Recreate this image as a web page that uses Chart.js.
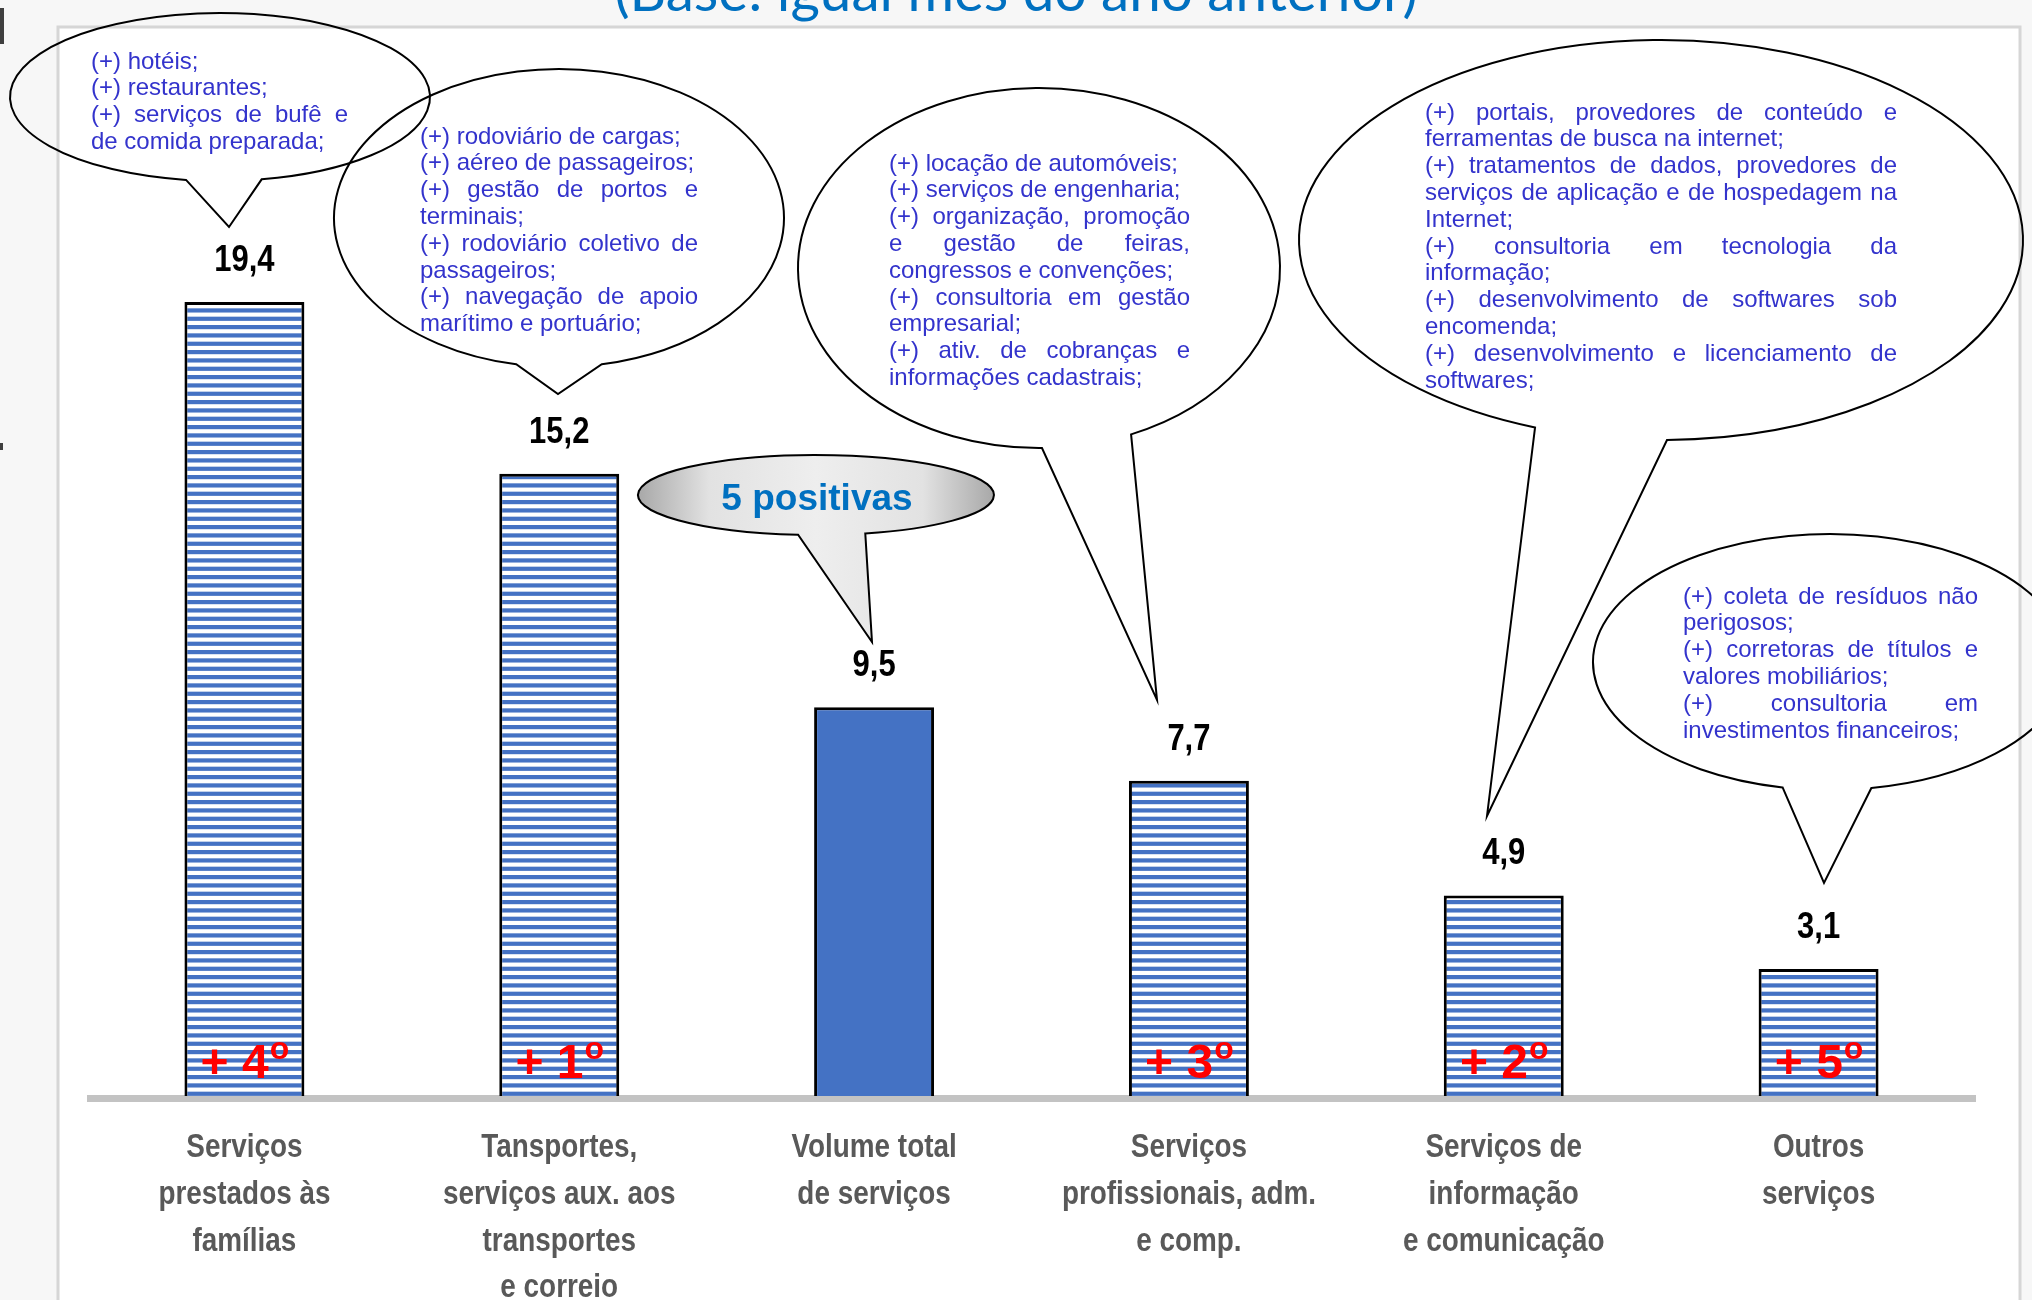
<!DOCTYPE html>
<html>
<head>
<meta charset="utf-8">
<script src="https://cdn.jsdelivr.net/npm/chart.js@4.4.0/dist/chart.umd.min.js"></script>
<style>
  html, body { margin: 0; padding: 0; background: #f7f7f7; }
  #wrap { width: 2032px; height: 1300px; }
</style>
</head>
<body>
<div id="wrap"><canvas id="servChart" width="2032" height="1300"></canvas></div>
<script>
// Categories (multi-line labels) and values
const categories = [
    ["Serviços", "prestados às", "famílias"],
    ["Tansportes,", "serviços aux. aos", "transportes", "e correio"],
    ["Volume total", "de serviços"],
    ["Serviços", "profissionais, adm.", "e comp."],
    ["Serviços de", "informação", "e comunicação"],
    ["Outros", "serviços"]
];
const variation = [19.4, 15.2, 9.5, 7.7, 4.9, 3.1];
const ranking = ["4", "1", "", "3", "2", "5"];
const isTotal = [false, false, true, false, false, false];

const titleText = "(Base: igual mês do ano anterior)";
const summaryText = "5 positivas";

// Bubble texts: one array per bubble, each paragraph = its wrapped lines
const bubbleTexts = [
    [["(+) hotéis;"], ["(+) restaurantes;"], ["(+) serviços de bufê e", "de comida preparada;"]],
    [["(+) rodoviário de cargas;"], ["(+) aéreo de passageiros;"], ["(+) gestão de portos e", "terminais;"],
     ["(+) rodoviário coletivo de", "passageiros;"], ["(+) navegação de apoio", "marítimo e portuário;"]],
    [["(+) locação de automóveis;"], ["(+) serviços de engenharia;"],
     ["(+) organização, promoção", "e gestão de feiras,", "congressos e convenções;"],
     ["(+) consultoria em gestão", "empresarial;"], ["(+) ativ. de cobranças e", "informações cadastrais;"]],
    [["(+) portais, provedores de conteúdo e", "ferramentas de busca na internet;"],
     ["(+) tratamentos de dados, provedores de", "serviços de aplicação e de hospedagem na", "Internet;"],
     ["(+) consultoria em tecnologia da", "informação;"],
     ["(+) desenvolvimento de softwares sob", "encomenda;"],
     ["(+) desenvolvimento e licenciamento de", "softwares;"]],
    [["(+) coleta de resíduos não", "perigosos;"], ["(+) corretoras de títulos e", "valores mobiliários;"],
     ["(+) consultoria em", "investimentos financeiros;"]]
];

// Callout shapes (ellipse, tail base left/right, tip) and text boxes, in page pixels
const bubbleShapes = [
    { cx: 220, cy: 97, rx: 210, ry: 84, bl: [186, 180], br: [262, 180], tip: [229, 227], box: [91, 348, 62] },
    { cx: 559, cy: 218, rx: 225, ry: 149, bl: [516, 365], br: [602, 365], tip: [558, 394], box: [420, 698, 137] },
    { cx: 1039, cy: 268, rx: 241, ry: 180, bl: [1042, 449], br: [1132, 436], tip: [1157, 700], box: [889, 1190, 164] },
    { cx: 1661, cy: 240, rx: 362, ry: 200, bl: [1530, 435], br: [1667, 440], tip: [1487, 816], box: [1425, 1897, 113] },
    { cx: 1830, cy: 662, rx: 237, ry: 128, bl: [1782, 789], br: [1872, 790], tip: [1824, 883], box: [1683, 1978, 597] }
];
const summaryShape = { cx: 816, cy: 495, rx: 178, ry: 40, bl: [798, 535], br: [866, 534], tip: [872, 642] };

const BLUE = "#4472c4";
const SANS = '"Liberation Sans", Arial, sans-serif';

// Horizontal stripe pattern for the bars
function makeStripes() {
    const c = document.createElement("canvas");
    c.width = 4;
    c.height = 25;
    const g = c.getContext("2d");
    g.fillStyle = "#ffffff";
    g.fillRect(0, 0, 4, 25);
    g.fillStyle = BLUE;
    for (let k = 0; k < 3; k++) g.fillRect(0, k * 25 / 3, 4, 4.2);
    return g.createPattern(c, "repeat");
}

function bubblePath(ctx, g) {
    const t1 = Math.atan2((g.bl[1] - g.cy) / g.ry, (g.bl[0] - g.cx) / g.rx);
    const t2 = Math.atan2((g.br[1] - g.cy) / g.ry, (g.br[0] - g.cx) / g.rx);
    ctx.beginPath();
    ctx.ellipse(g.cx, g.cy, g.rx, g.ry, 0, t1, t2, false);
    ctx.lineTo(g.tip[0], g.tip[1]);
    ctx.closePath();
}

// condensed bold text (narrow look of the slide font)
function narrowText(ctx, text, x, y, size, sx) {
    ctx.save();
    ctx.translate(x, y);
    ctx.scale(sx, 1);
    ctx.font = "bold " + size + "px " + SANS;
    ctx.fillText(text, 0, 0);
    ctx.restore();
}

// Justified text like the slide: every line but the last of a paragraph fills the box
function drawJustified(ctx, paras, left, right, top) {
    ctx.font = "24px " + SANS;
    ctx.fillStyle = "#3333cc";
    ctx.textBaseline = "middle";
    ctx.textAlign = "left";
    let y = top;
    paras.forEach(p => {
        p.forEach((line, i) => {
            const words = line.split(" ");
            if (i === p.length - 1 || words.length < 2) {
                ctx.fillText(line, left, y);
            } else {
                const ww = words.map(w => ctx.measureText(w).width);
                const gap = (right - left - ww.reduce((a, b) => a + b, 0)) / (words.length - 1);
                let x = left;
                words.forEach((w, k) => { ctx.fillText(w, x, y); x += ww[k] + gap; });
            }
            y += 26.8;
        });
    });
}

const slidePlugin = {
    id: "slide",
    beforeDraw(chart) {
        const ctx = chart.ctx;
        ctx.save();
        ctx.fillStyle = "#f7f7f7";
        ctx.fillRect(0, 0, chart.width, chart.height);
        // bits of cut-off slide text on the left edge
        ctx.fillStyle = "#3f3f3f";
        ctx.fillRect(0, 8, 4, 36);
        ctx.fillRect(0, 443, 3, 7);
        ctx.fillStyle = "#ffffff";
        ctx.fillRect(58, 27, 1962, 1280);
        ctx.strokeStyle = "#d6d6d6";
        ctx.lineWidth = 3;
        ctx.strokeRect(58, 27, 1962, 1280);

        // title, cut by the top of the picture
        ctx.font = "100px Lato, " + SANS;
        const s = 100 * 803 / ctx.measureText(titleText).width;
        ctx.font = s.toFixed(1) + "px Lato, " + SANS;
        ctx.fillStyle = "#0070c0";
        ctx.textAlign = "center";
        ctx.textBaseline = "alphabetic";
        ctx.fillText(titleText, 1016, 11);
        ctx.restore();
    },
    beforeDatasetsDraw(chart) {
        // grey base line under the bars
        const ctx = chart.ctx;
        const a = chart.chartArea;
        ctx.save();
        ctx.fillStyle = "#c3c3c3";
        ctx.fillRect(a.left, a.bottom - 1, a.right - a.left, 7);
        ctx.restore();
    },
    afterDatasetsDraw(chart) {
        const ctx = chart.ctx;
        const bars = chart.getDatasetMeta(0).data;
        const xScale = chart.scales.x;
        const base = chart.chartArea.bottom;
        ctx.save();

        // category labels under the axis
        ctx.fillStyle = "#595959";
        ctx.textAlign = "center";
        ctx.textBaseline = "middle";
        chart.data.labels.forEach((lines, i) => {
            const x = xScale.getPixelForValue(i);
            lines.forEach((l, k) => narrowText(ctx, l, x, base + 52 + k * 46.7, 34, 0.82));
        });

        // values above the bars and ranking inside them
        bars.forEach((bar, i) => {
            ctx.fillStyle = "#000000";
            ctx.textAlign = "center";
            ctx.textBaseline = "alphabetic";
            narrowText(ctx, variation[i].toFixed(1).replace(".", ","), bar.x, bar.y - 31, 36, 0.86);

            if (ranking[i]) {
                const main = "+ " + ranking[i];
                ctx.font = "bold 48px " + SANS;
                const w1 = ctx.measureText(main).width;
                ctx.font = "bold 32px " + SANS;
                const w2 = ctx.measureText("o").width;
                const x0 = bar.x - (w1 + w2) / 2;
                ctx.fillStyle = "#ff0000";
                ctx.textAlign = "left";
                ctx.font = "bold 48px " + SANS;
                ctx.fillText(main, x0, base - 18);
                ctx.font = "bold 32px " + SANS;
                ctx.fillText("o", x0 + w1 + 1, base - 37);
            }
        });

        // speech bubbles
        ctx.strokeStyle = "#000000";
        ctx.lineWidth = 2;
        bubbleShapes.forEach((g, i) => {
            bubblePath(ctx, g);
            ctx.stroke();
            drawJustified(ctx, bubbleTexts[i], g.box[0], g.box[1], g.box[2]);
        });

        // "5 positivas" callout
        const g = summaryShape;
        const grad = ctx.createLinearGradient(g.cx - g.rx, 0, g.cx + g.rx, 0);
        grad.addColorStop(0, "#a8a8a8");
        grad.addColorStop(0.2, "#e2e2e2");
        grad.addColorStop(0.5, "#eeeeee");
        grad.addColorStop(0.8, "#e2e2e2");
        grad.addColorStop(1, "#a8a8a8");
        bubblePath(ctx, g);
        ctx.fillStyle = grad;
        ctx.fill();
        ctx.stroke();
        ctx.font = "bold 37px " + SANS;
        ctx.fillStyle = "#0070c0";
        ctx.textAlign = "center";
        ctx.textBaseline = "alphabetic";
        ctx.fillText(summaryText, g.cx + 1, 510);
        ctx.restore();
    }
};

const stripes = makeStripes();
const ctx = document.getElementById("servChart").getContext("2d");
const servChart = new Chart(ctx, {
    type: "bar",
    data: {
        labels: categories,
        datasets: [{
            data: variation,
            backgroundColor: variation.map((v, i) => isTotal[i] ? BLUE : stripes),
            borderColor: "#000000",
            borderWidth: 3,
            barPercentage: 0.381,
            categoryPercentage: 1
        }]
    },
    options: {
        responsive: false,
        animation: false,
        layout: { padding: { top: 40, left: 87, right: 56, bottom: 0 } },
        plugins: {
            legend: { display: false },
            tooltip: { enabled: false }
        },
        scales: {
            x: {
                grid: { display: false, drawTicks: false },
                border: { display: false },
                ticks: { display: false },
                afterFit: scale => { scale.height = 204; }
            },
            y: { display: false, min: 0, max: 25.8 }
        }
    },
    plugins: [slidePlugin]
});
</script>
</body>
</html>
